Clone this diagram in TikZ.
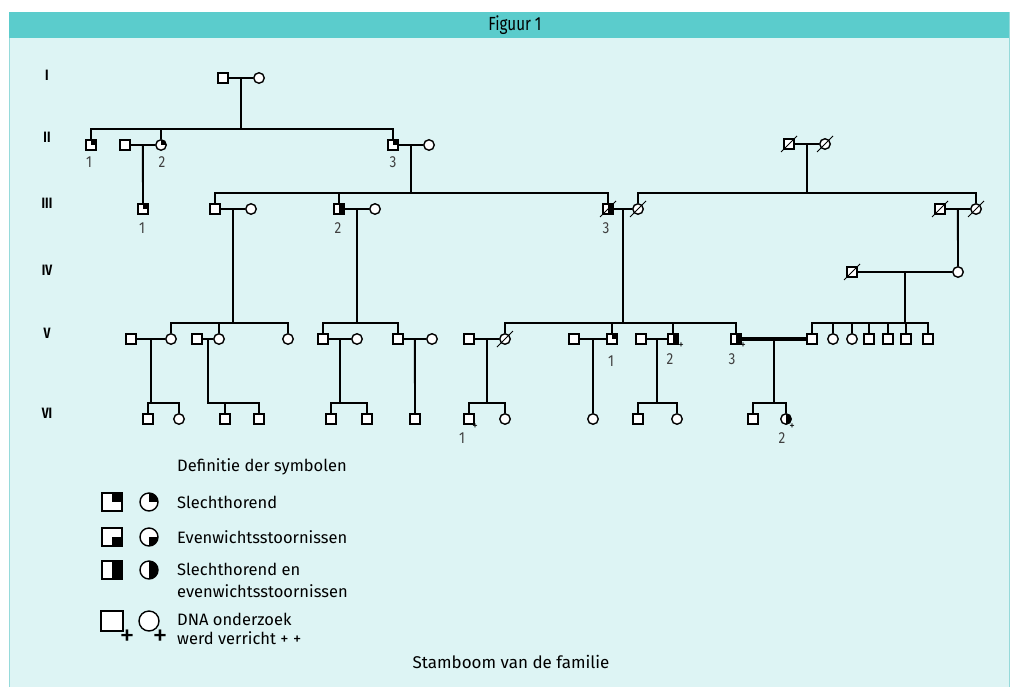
\documentclass[tikz,border=0pt]{standalone}
\usepackage{fontspec}
\setmainfont{Fira Sans}
\begin{document}
\begin{tikzpicture}[x=1pt,y=-1pt,
  lw/.style={line width=1.9pt},
  m/.style={draw,fill=white,minimum size=10pt,inner sep=0pt,line width=1.4pt},
  f/.style={circle,draw,fill=white,minimum size=10.5pt,inner sep=0pt,line width=1.4pt},
  sh/.style={path picture={\fill[black] (path picture bounding box.center) rectangle (path picture bounding box.north east);}},
  ev/.style={path picture={\fill[black] (path picture bounding box.center) rectangle (path picture bounding box.south east);}},
  bo/.style={path picture={\fill[black] (path picture bounding box.south) rectangle (path picture bounding box.north east);}},
  lbl/.style={font=\fontsize{16}{16}\selectfont\addfontfeatures{FakeStretch=0.85},text=black!75,inner sep=0pt},
  gen/.style={font=\fontsize{15}{15}\selectfont\bfseries\addfontfeatures{FakeStretch=0.8},inner sep=0pt},
  txt/.style={font=\fontsize{16.5}{22}\selectfont,inner sep=0pt,anchor=west},
  pl/.style={font=\fontsize{11}{11}\selectfont,inner sep=0pt},
  bpl/.style={font=\fontsize{30}{30}\selectfont\addfontfeatures{FakeBold=0},inner sep=0pt},
  big/.style={draw,fill=white,line width=1.4pt,minimum width=20pt,minimum height=18pt,inner sep=0pt},
  bigc/.style={circle,draw,fill=white,line width=1.4pt,minimum size=18pt,inner sep=0pt}]
\newcommand\dcsd[1]{\draw[line width=0.9pt] ([shift={(-8,8)}]#1.center) -- ([shift={(8,-8)}]#1.center);}
\useasboundingbox (0,0) rectangle (1017,686);
\fill[white] (0,0) rectangle (1017,686);
\fill[fill={rgb,255:red,221;green,244;blue,244},draw={rgb,255:red,150;green,218;blue,218},line width=1pt] (9,12) rectangle (1009,690);
\fill[fill={rgb,255:red,91;green,204;blue,204}] (9,12) rectangle (1009,38);
\node[font=\fontsize{19}{19}\selectfont\addfontfeatures{FakeStretch=0.8},inner sep=0pt] (title) at (515,25) {Figuur 1};
% generation labels
\node[gen] (gI) at (47,75) {I};
\node[gen] (gII) at (47,137) {II};
\node[gen] (gIII) at (47,203) {III};
\node[gen] (gIV) at (47,270) {IV};
\node[gen] (gV) at (47,333) {V};
\node[gen] (gVI) at (47,413) {VI};
% sibship levels
\coordinate (s2) at (0,129);
\coordinate (s3) at (0,193);
\coordinate (s5) at (0,323);
\coordinate (s6) at (0,403);
% Gen I
\node[m] (I1) at (223,78) {};
\node[f] (I2) at (259,78) {};
% Gen II
\node[m,sh] (II1) at (91,145) {};
\node[m] (II2s) at (125,145) {};
\node[f,sh] (II2) at (161,145) {};
\node[m,sh] (II3) at (393,145) {};
\node[f] (II3s) at (429,145) {};
\node[m] (IIr1) at (789,144) {};
\node[f] (IIr2) at (825,144) {};
% Gen III
\node[m,sh] (III1) at (143,209) {};
\node[m] (IIIa) at (215,209) {};
\node[f] (IIIas) at (251,209) {};
\node[m,bo] (III2) at (339,209) {};
\node[f] (III2s) at (375,209) {};
\node[m,bo] (III3) at (608,209) {};
\node[f] (III3s) at (638,209) {};
\node[m] (IIIrs) at (940,209) {};
\node[f] (IIIr) at (976,209) {};
% Gen IV
\node[m] (IV1) at (852,272) {};
\node[f] (IV2) at (958,272) {};
% Gen V
\node[m] (Va1s) at (131,339) {};
\node[f] (Va1) at (171,339) {};
\node[m] (Va2s) at (197,339) {};
\node[f] (Va2) at (219,339) {};
\node[f] (Va3) at (288,339) {};
\node[m] (Vb1) at (323,339) {};
\node[f] (Vb1s) at (357,339) {};
\node[m] (Vb2) at (398,339) {};
\node[f] (Vb2s) at (432,339) {};
\node[m] (Vc1s) at (469,339) {};
\node[f] (Vc1) at (505,339) {};
\node[m] (V1s) at (574,339) {};
\node[m,sh] (V1) at (612,339) {};
\node[m] (V2s) at (641,339) {};
\node[m,bo] (V2) at (673,339) {};
\node[m,bo] (V3) at (736,339) {};
\node[m] (Vd1) at (812,339) {};
\node[f] (Vd2) at (833,339) {};
\node[f] (Vd3) at (852,339) {};
\node[m] (Vd4) at (869,339) {};
\node[m] (Vd5) at (888,339) {};
\node[m] (Vd6) at (906,339) {};
\node[m] (Vd7) at (928,339) {};
% Gen VI
\node[m] (VIa1) at (148,419) {};
\node[f] (VIa2) at (179,419) {};
\node[m] (VIb1) at (225,419) {};
\node[m] (VIb2) at (259,419) {};
\node[m] (VIc1) at (331,419) {};
\node[m] (VIc2) at (367,419) {};
\node[m] (VId1) at (415,419) {};
\node[m] (VI1) at (469,419) {};
\node[f] (VIe2) at (505,419) {};
\node[f] (VIf1) at (593,419) {};
\node[m] (VIg1) at (638,419) {};
\node[f] (VIg2) at (677,419) {};
\node[m] (VIh1) at (753,419) {};
\node[f,bo] (VI2) at (786,419) {};
% deceased
\dcsd{IIr1}\dcsd{IIr2}\dcsd{III3}\dcsd{III3s}\dcsd{IIIrs}\dcsd{IIIr}\dcsd{IV1}\dcsd{Vc1}
% marriage midpoints
\path (I1) -- coordinate[midway] (mI) (I2);
\path (II2s) -- coordinate[midway] (mII2) (II2);
\path (II3) -- coordinate[midway] (mII3) (II3s);
\path (IIr1) -- coordinate[midway] (mIIr) (IIr2);
\path (IIIa) -- coordinate[midway] (mIIIa) (IIIas);
\path (III2) -- coordinate[midway] (mIII2) (III2s);
\path (III3) -- coordinate[midway] (mIII3) (III3s);
\path (IIIrs) -- coordinate[midway] (mIIIr) (IIIr);
\path (IV1) -- coordinate[midway] (mIV) (IV2);
\path (Va1s) -- coordinate[midway] (mVa1) (Va1);
\path (Va2s) -- coordinate[midway] (mVa2) (Va2);
\path (Vb1) -- coordinate[midway] (mVb1) (Vb1s);
\path (Vb2) -- coordinate[midway] (mVb2) (Vb2s);
\path (Vc1s) -- coordinate[midway] (mVc1) (Vc1);
\path (V1s) -- coordinate[midway] (mV1) (V1);
\path (V2s) -- coordinate[midway] (mV2) (V2);
\path (V3) -- coordinate[midway] (mV3) (Vd1);
\begin{scope}[lw]
% marriages
\draw (I1) -- (I2);
\draw (II2s) -- (II2);
\draw (II3) -- (II3s);
\draw (IIr1) -- (IIr2);
\draw (IIIa) -- (IIIas);
\draw (III2) -- (III2s);
\draw (III3) -- (III3s);
\draw (IIIrs) -- (IIIr);
\draw (IV1) -- (IV2);
\draw (Va1s) -- (Va1);
\draw (Va2s) -- (Va2);
\draw (Vb1) -- (Vb1s);
\draw (Vb2) -- (Vb2s);
\draw (Vc1s) -- (Vc1);
\draw (V1s) -- (V1);
\draw (V2s) -- (V2);
\draw[line width=3.4pt] (V3) -- (Vd1);
% Gen I -> II
\draw (mI) -- (mI |- s2);
\draw (II1) -- (II1 |- s2) -- (II3 |- s2) -- (II3);
\draw (II2) -- (II2 |- s2);
% II -> III
\draw (mII2) -- (III1);
\draw (mII3) -- (mII3 |- s3);
\draw (IIIa) -- (IIIa |- s3) -- (III3 |- s3) -- (III3);
\draw (III2) -- (III2 |- s3);
\draw (mIIr) -- (mIIr |- s3);
\draw (III3s) -- (III3s |- s3) -- (IIIr |- s3) -- (IIIr);
% III -> IV
\draw (mIIIr) -- (IV2);
% III -> V
\draw (mIIIa) -- (mIIIa |- s5);
\draw (Va1) -- (Va1 |- s5) -- (Va3 |- s5) -- (Va3);
\draw (Va2) -- (Va2 |- s5);
\draw (mIII2) -- (mIII2 |- s5);
\draw (Vb1) -- (Vb1 |- s5) -- (Vb2 |- s5) -- (Vb2);
\draw (mIII3) -- (mIII3 |- s5);
\draw (Vc1) -- (Vc1 |- s5) -- (V3 |- s5) -- (V3);
\draw (V1) -- (V1 |- s5);
\draw (V2) -- (V2 |- s5);
% IV -> V
\draw (mIV) -- (mIV |- s5);
\draw (Vd1) -- (Vd1 |- s5) -- (Vd7 |- s5) -- (Vd7);
\foreach \c in {Vd2,Vd3,Vd4,Vd5,Vd6} \draw (\c) -- (\c |- s5);
% V -> VI
\draw (mVa1) -- (mVa1 |- s6);
\draw (VIa1) -- (VIa1 |- s6) -- (VIa2 |- s6) -- (VIa2);
\draw (mVa2) -- (mVa2 |- s6) -- (VIb2 |- s6) -- (VIb2);
\draw (VIb1) -- (VIb1 |- s6);
\draw (mVb1) -- (mVb1 |- s6);
\draw (VIc1) -- (VIc1 |- s6) -- (VIc2 |- s6) -- (VIc2);
\draw (mVb2) -- (VId1);
\draw (mVc1) -- (mVc1 |- s6);
\draw (VI1) -- (VI1 |- s6) -- (VIe2 |- s6) -- (VIe2);
\draw (mV1) -- (VIf1);
\draw (mV2) -- (mV2 |- s6);
\draw (VIg1) -- (VIg1 |- s6) -- (VIg2 |- s6) -- (VIg2);
\draw (mV3) -- (mV3 |- s6);
\draw (VIh1) -- (VIh1 |- s6) -- (VI2 |- s6) -- (VI2);
\end{scope}
% labels
\node[lbl] (l1) at (89,162) {1};
\node[lbl] (l2) at (162,162) {2};
\node[lbl] (l3) at (393,162) {3};
\node[lbl] (l4) at (142,228) {1};
\node[lbl] (l5) at (338,228) {2};
\node[lbl] (l6) at (606,228) {3};
\node[lbl] (l7) at (611,361) {1};
\node[lbl] (l8) at (670,359) {2};
\node[lbl] (l9) at (732,359) {3};
\node[lbl] (l10) at (462,438) {1};
\node[lbl] (l11) at (782,438) {2};
\node[pl] (p1) at (681,346) {+};
\node[pl] (p2) at (743,346) {+};
\node[pl] (p3) at (475,427) {+};
\node[pl] (p4) at (792,427) {+};
% legend
\node[txt] (lt) at (177,467) {Definitie der symbolen};
\node[big,sh] (k1) at (112,502) {};
\node[bigc,sh] (c1) at (149,502) {};
\node[txt] (t1) at (177,502) {Slechthorend};
\node[big,ev] (k2) at (112,537) {};
\node[bigc,ev] (c2) at (149,537) {};
\node[txt] (t2) at (177,537) {Evenwichtsstoornissen};
\node[big,bo] (k3) at (112,570) {};
\node[bigc,bo] (c3) at (149,570) {};
\node[txt,align=left] (t3) at (177,580) {Slechthorend en\\evenwichtsstoornissen};
\node[big,minimum width=22pt,minimum height=20pt] (k4) at (112,621) {};
\node[bigc,minimum size=20pt] (c4) at (149,621) {};
\node[txt] (t4) at (177,619) {DNA onderzoek};
\node[bpl] (pp1) at (127,638) {+};
\node[bpl] (pp2) at (160,638) {+};
\node[txt] (t5) at (177,638) {werd verricht + +};
\node[font=\fontsize{17}{17}\selectfont,inner sep=0pt] (cap) at (511,662) {Stamboom van de familie};
\end{tikzpicture}
\end{document}
